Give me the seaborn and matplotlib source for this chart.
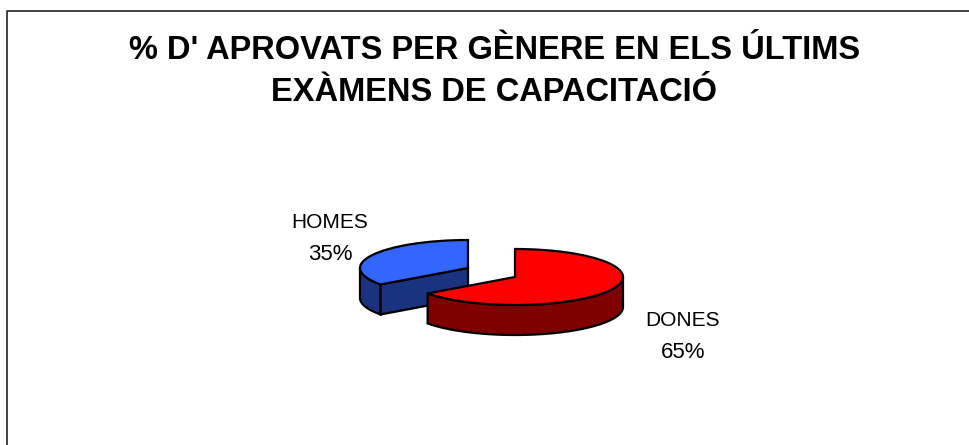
import numpy as np
import matplotlib
matplotlib.use("Agg")
import matplotlib.pyplot as plt
import seaborn as sns

categories = ["DONES", "HOMES"]
percent = [65, 35]
slice_colors = ["#FF0000", "#3366FF"]
wall_colors = ["#800000", "#1A3380"]
title = "% D' APROVATS PER GÈNERE EN ELS ÚLTIMS\nEXÀMENS DE CAPACITACIÓ"

sns.set_theme(style="white")
plt.rcParams["font.family"] = ["Liberation Sans", "DejaVu Sans"]

W, H = 969, 445
RX, RY, DEPTH = 108, 28, 30
centers = {"DONES": (515, 277), "HOMES": (468, 268)}

fig = plt.figure(figsize=(W / 100, H / 100), dpi=100)
ax = fig.add_axes([0, 0, 1, 1])


def draw_slice(i):
    name = categories[i]
    cx, cy = centers[name]
    # clockwise from 12 o'clock, same as the pie below
    edges = np.cumsum([0] + percent) / sum(percent) * 360
    a, b = edges[i], edges[i + 1]
    # wall: only the part of the rim that faces the viewer (lower half)
    lo, hi = max(a, 90), min(b, 270)
    t = np.radians(np.linspace(lo, hi, 120))
    x = cx + RX * np.sin(t)
    y = cy - RY * np.cos(t)
    ax.fill(np.r_[x, x[::-1]], np.r_[y, y[::-1] + DEPTH], fc=wall_colors[i], ec="black", lw=1.6, zorder=i * -2 + 3)
    if name == "HOMES":
        # cut face seen from the front
        t0 = np.radians(a)
        fx = [cx + RX * np.sin(t0), cx, cx, cx + RX * np.sin(t0)]
        fy = [cy - RY * np.cos(t0), cy, cy + DEPTH, cy - RY * np.cos(t0) + DEPTH]
        ax.fill(fx, fy, fc=wall_colors[i], ec="black", lw=1.6, zorder=i * -2 + 3)
    wedges, _ = ax.pie(percent, colors=slice_colors, startangle=90, counterclock=False,
                       center=(cx, cy), radius=1,
                       wedgeprops={"edgecolor": "black", "linewidth": 1.6})
    for j, w in enumerate(wedges):
        if j != i:
            w.set_visible(False)
        else:
            # stretch the unit pie to the flattened ellipse
            w.set_transform(matplotlib.transforms.Affine2D().translate(-cx, -cy).scale(RX, -RY).translate(cx, cy) + ax.transData)
            w.set_zorder(i * -2 + 4)


draw_slice(1)
draw_slice(0)

ax.set_aspect("auto")
ax.set_xlim(0, W)
ax.set_ylim(H, 0)
ax.axis("off")

# chart frame runs off the picture at the right and at the bottom
ax.plot([7.5, 7.5, W], [H, 11, 11], color="#222222", lw=1.2, zorder=5)

ax.text(494.5, 71.5, title, ha="center", va="center", fontsize=23.5, fontweight="bold",
        color="black", linespacing=1.47)

# name is squeezed in the original, so a bit smaller than the percent
ax.text(683, 321, categories[0], ha="center", va="center", fontsize=15, color="black")
ax.text(683, 352.5, f"{percent[0]}%", ha="center", va="center", fontsize=16, color="black")
ax.text(330, 222.5, categories[1], ha="center", va="center", fontsize=15, color="black")
ax.text(330, 254.5, f"{percent[1]}%", ha="center", va="center", fontsize=16, color="black")

fig.savefig("out.png", dpi=100, facecolor="white")
